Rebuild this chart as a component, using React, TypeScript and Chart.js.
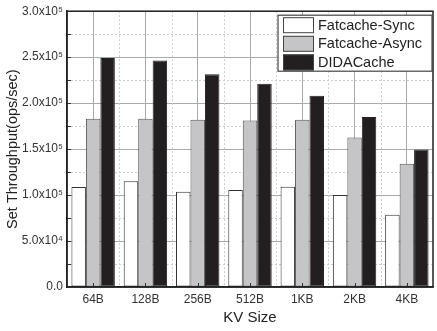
import React, { useEffect, useRef } from 'react';
import { Chart, registerables } from 'chart.js';

Chart.register(...registerables);

const categories = ['64B', '128B', '256B', '512B', '1KB', '2KB', '4KB'];
const seriesNames = ['Fatcache-Sync', 'Fatcache-Async', 'DIDACache'];
const syncValues = [108700, 115000, 103700, 105500, 109000, 100000, 78700];
const asyncValues = [183000, 183000, 182000, 181000, 182000, 162700, 134000];
const didaValues = [249000, 246400, 231500, 221000, 208000, 184800, 149700];
const yTickLabels = ['0.0', '5.0x10⁴', '1.0x10⁵', '1.5x10⁵', '2.0x10⁵', '2.5x10⁵', '3.0x10⁵'];

const FONT = '"Liberation Sans", Arial, Helvetica, sans-serif';
const fills = ['#ffffff', '#c5c5c7', '#231f20'];
const borders = ['#333333', '#555555', '#231f20'];

const decor = {
  id: 'decor',
  beforeDatasetsDraw(chart: any) {
    const { ctx, chartArea: a, scales } = chart;
    const x = scales.x;
    const y = scales.y;
    ctx.save();
    ctx.strokeStyle = '#cdcdcd';
    ctx.lineWidth = 1;
    ctx.setLineDash([2, 2]);
    for (let v = 25000; v < 300000; v += 50000) {
      const py = Math.round(y.getPixelForValue(v)) + 0.5;
      ctx.beginPath();
      ctx.moveTo(a.left, py);
      ctx.lineTo(a.right, py);
      ctx.stroke();
    }
    for (let i = 0; i < categories.length - 1; i++) {
      const px = Math.round((x.getPixelForValue(i) + x.getPixelForValue(i + 1)) / 2) + 0.5;
      ctx.beginPath();
      ctx.moveTo(px, a.top);
      ctx.lineTo(px, a.bottom);
      ctx.stroke();
    }
    ctx.restore();
  },
  afterDatasetsDraw(chart: any) {
    const { ctx, chartArea: a, scales } = chart;
    const x = scales.x;
    const y = scales.y;
    ctx.save();
    // inward ticks
    ctx.strokeStyle = '#333';
    ctx.lineWidth = 1;
    for (let v = 25000; v < 300000; v += 25000) {
      const py = Math.round(y.getPixelForValue(v)) + 0.5;
      ctx.beginPath();
      ctx.moveTo(a.left, py);
      ctx.lineTo(a.left + 4, py);
      ctx.stroke();
    }
    for (let i = 0; i < categories.length; i++) {
      const px = Math.round(x.getPixelForValue(i)) + 0.5;
      ctx.beginPath();
      ctx.moveTo(px, a.bottom);
      ctx.lineTo(px, a.bottom - 4);
      ctx.stroke();
    }
    // frame
    ctx.strokeStyle = '#222';
    ctx.lineWidth = 1.5;
    ctx.strokeRect(a.left, a.top, a.right - a.left, a.bottom - a.top);

    // legend
    const right = a.right - 1;
    const left = right - 154;
    const top = a.top + 4;
    const h = 56;
    ctx.fillStyle = '#ffffff';
    ctx.fillRect(left, top, right - left, h);
    ctx.strokeStyle = '#444';
    ctx.lineWidth = 1.2;
    ctx.strokeRect(left, top, right - left, h);
    ctx.font = `14.5px ${FONT}`;
    ctx.textBaseline = 'middle';
    ctx.textAlign = 'left';
    for (let i = 0; i < seriesNames.length; i++) {
      const sy = top + 2 + i * 18.6;
      ctx.fillStyle = fills[i];
      ctx.fillRect(left + 5, sy, 31, 16);
      ctx.strokeStyle = '#444';
      ctx.lineWidth = 1;
      ctx.strokeRect(left + 5.5, sy + 0.5, 30, 15);
      ctx.fillStyle = '#222';
      ctx.fillText(seriesNames[i], left + 40, sy + 8.5);
    }
    ctx.restore();
  },
};

export default function App() {
  const ref = useRef<HTMLCanvasElement>(null);
  useEffect(() => {
    document.body.style.margin = '0';
    const values = [syncValues, asyncValues, didaValues];
    const chart = new Chart(ref.current as HTMLCanvasElement, {
      type: 'bar',
      data: {
        labels: categories,
        datasets: seriesNames.map((name, i) => ({
          label: name,
          data: values[i],
          backgroundColor: fills[i],
          borderColor: borders[i],
          borderWidth: 1,
          borderSkipped: false,
          barPercentage: 1,
          categoryPercentage: 0.83,
        })),
      },
      options: {
        animation: false,
        responsive: false,
        layout: { padding: { left: 0, right: 4, top: 11, bottom: 0 } },
        plugins: { legend: { display: false }, tooltip: { enabled: false } },
        scales: {
          x: {
            grid: { offset: false, color: '#aaaaaa', lineWidth: 1, drawTicks: false },
            border: { display: true, color: '#222', width: 1.5 },
            ticks: { color: '#333', font: { family: FONT, size: 12 }, padding: 5 },
            title: {
              display: true,
              text: 'KV Size',
              color: '#222',
              font: { family: FONT, size: 15 },
              padding: { top: 4, bottom: 4 },
            },
            afterFit: (s: any) => {
              s.height = 44;
            },
          },
          y: {
            min: 0,
            max: 300000,
            grid: { color: '#aaaaaa', lineWidth: 1, drawTicks: false },
            border: { display: true, color: '#222', width: 1.5 },
            ticks: {
              stepSize: 50000,
              color: '#333',
              font: { family: FONT, size: 12 },
              padding: 4,
              callback: (v: any) => yTickLabels[Math.round(Number(v) / 50000)],
            },
            title: {
              display: true,
              text: 'Set Throughput(ops/sec)',
              color: '#222',
              font: { family: FONT, size: 14.5 },
              padding: { top: 4, bottom: 4 },
            },
            afterFit: (s: any) => {
              s.width = 67;
            },
          },
        },
      },
      plugins: [decor],
    } as any);
    return () => chart.destroy();
  }, []);
  return (
    <div style={{ width: 437, height: 331 }}>
      <canvas ref={ref} width={437} height={331} />
    </div>
  );
}
